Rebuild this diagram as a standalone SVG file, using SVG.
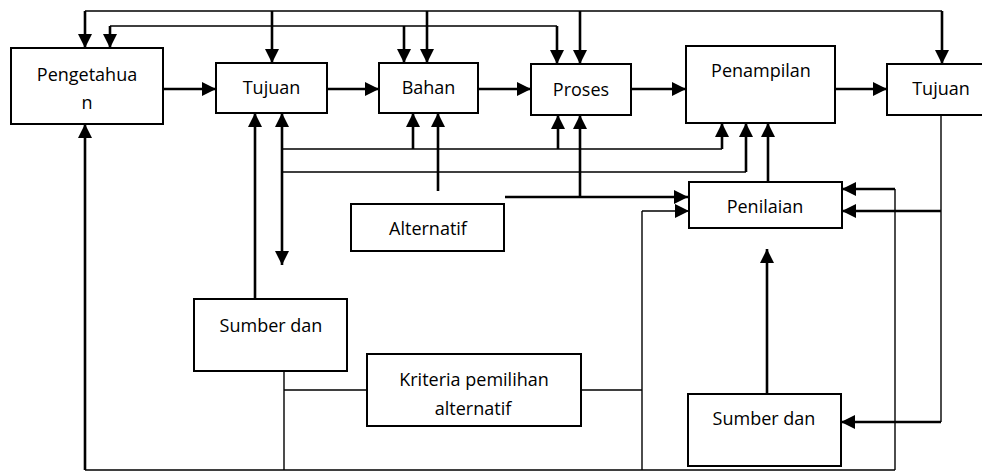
<svg xmlns="http://www.w3.org/2000/svg" width="982" height="475" viewBox="0 0 982 475">
<defs>
<marker id="ah" markerUnits="userSpaceOnUse" markerWidth="14" markerHeight="14" refX="14" refY="7" orient="auto-start-reverse"><path d="M0,0 L14,7 L0,14 z" fill="#000"/></marker>
<style>
.box{fill:#fff;stroke:#000;stroke-width:2}
.t{font-family:"Open Sans","Noto Sans",sans-serif;font-size:18px;fill:#000;text-anchor:middle}
.k{fill:none;stroke:#000;stroke-width:2.6}
.n{fill:none;stroke:#000;stroke-width:1.4}
.a{marker-end:url(#ah)}
</style>
</defs>
<rect width="982" height="475" fill="#fff"/>
<g id="connectors">
<path class="n" d="M85,11 H942 M110,26 H557"/>
<path class="k a" d="M85,11 V48"/>
<path class="k a" d="M110,26 V48"/>
<path class="k a" d="M272,11 V63"/>
<path class="k a" d="M404,26 V63"/>
<path class="k a" d="M427,11 V63"/>
<path class="k a" d="M557,26 V64"/>
<path class="k a" d="M580,11 V64"/>
<path class="k a" d="M942,11 V64"/>
<path class="k a" d="M163,89 H216"/>
<path class="k a" d="M327,89 H379"/>
<path class="k a" d="M478,89 H531"/>
<path class="k a" d="M631,89 H686"/>
<path class="k a" d="M835,89 H887"/>
<path class="k a" d="M85,470 V124"/>
<path class="k a" d="M255,299 V113"/>
<path class="k a" d="M282,265 V113" style="marker-start:url(#ah)"/>
<path class="n" d="M282,149 H722 M282,172 H746"/>
<path class="k a" d="M413,149 V113"/>
<path class="k a" d="M558,149 V115"/>
<path class="k a" d="M722,149 V123"/>
<path class="k a" d="M746,172 V123"/>
<path class="k a" d="M438,191 V113"/>
<path class="k a" d="M505,197 H688"/>
<path class="k a" d="M580,197 V115"/>
<path class="k a" d="M768,182 V123"/>
<path class="n" d="M642,470 V211"/>
<path class="n a" d="M642,211 H689"/>
<path class="n" d="M895,470 V189"/>
<path class="k a" d="M895,189 H842"/>
<path class="n" d="M941,115 V422"/>
<path class="k a" d="M941,211 H842"/>
<path class="k a" d="M941,422 H841"/>
<path class="k a" d="M767,394 V249"/>
<path class="n" d="M284,371 V470 M284,390 H367 M581,390 H642 M85,470 H895"/>
</g>
<g id="pengetahuan"><rect class="box" x="11" y="48" width="152" height="76"/><text class="t" x="87" y="81">Pengetahua</text><text class="t" x="87" y="109">n</text></g>
<g id="tujuan1"><rect class="box" x="216" y="63" width="111" height="50"/><text class="t" x="271.5" y="94">Tujuan</text></g>
<g id="bahan"><rect class="box" x="379" y="63" width="99" height="50"/><text class="t" x="428.5" y="94">Bahan</text></g>
<g id="proses"><rect class="box" x="531" y="64" width="100" height="51"/><text class="t" x="581" y="96">Proses</text></g>
<g id="penampilan"><rect class="box" x="686" y="46" width="149" height="77"/><text class="t" x="761" y="77">Penampilan</text></g>
<g id="tujuan2"><rect class="box" x="887" y="64" width="100" height="51"/><text class="t" x="941" y="95">Tujuan</text></g>
<g id="penilaian"><rect class="box" x="689" y="182" width="153" height="46"/><text class="t" x="765" y="213">Penilaian</text></g>
<g id="alternatif"><rect class="box" x="351" y="204" width="153" height="47"/><text class="t" x="428" y="235">Alternatif</text></g>
<g id="sumber1"><rect class="box" x="194" y="299" width="153" height="72"/><text class="t" x="271" y="332">Sumber dan</text></g>
<g id="kriteria"><rect class="box" x="367" y="354" width="214" height="72"/><text class="t" x="474" y="386">Kriteria pemilihan</text><text class="t" x="473" y="415">alternatif</text></g>
<g id="sumber2"><rect class="box" x="688" y="394" width="153" height="72"/><text class="t" x="764" y="425">Sumber dan</text></g>
</svg>
